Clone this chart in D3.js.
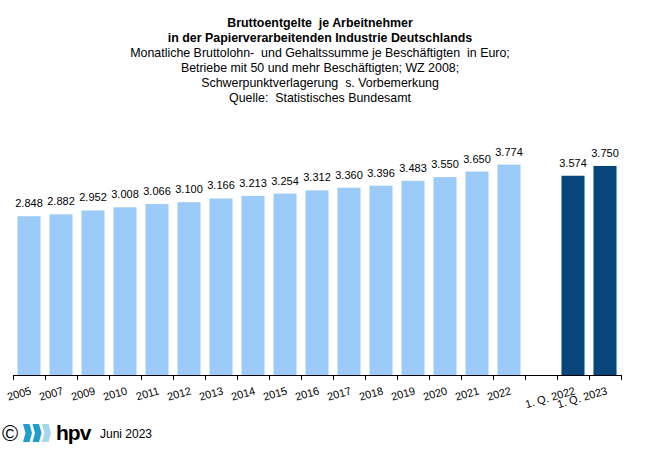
<!DOCTYPE html>
<html>
<head>
<meta charset="utf-8">
<script src="https://cdn.jsdelivr.net/npm/d3@7"></script>
<style>
  body { margin: 0; background: #fff; }
  svg { font-family: "Liberation Sans", Arial, sans-serif; }
</style>
</head>
<body>
<svg id="chart"></svg>
<script>
let width = 648;
let height = 461;

// data ("" = empty gap slot)
let categories = ["2005", "2007", "2009", "2010", "2011", "2012", "2013", "2014", "2015",
    "2016", "2017", "2018", "2019", "2020", "2021", "2022", "", "1. Q. 2022", "1. Q. 2023"];
let values = [2848, 2882, 2952, 3008, 3066, 3100, 3166, 3213, 3254,
    3312, 3360, 3396, 3483, 3550, 3650, 3774, null, 3574, 3750];
let quarterly = [false, false, false, false, false, false, false, false, false,
    false, false, false, false, false, false, false, false, true, true];

let titleLines = [
    "Bruttoentgelte  je Arbeitnehmer",
    "in der Papierverarbeitenden Industrie Deutschlands",
    "Monatliche Bruttolohn-  und Gehaltssumme je Beschäftigten  in Euro;",
    "Betriebe mit 50 und mehr Beschäftigten; WZ 2008;",
    "Schwerpunktverlagerung  s. Vorbemerkung",
    "Quelle:  Statistisches Bundesamt"
];

let svg = d3.select("#chart")
    .attr("width", width)
    .attr("height", height);

let de = d3.formatLocale({decimal: ",", thousands: ".", grouping: [3], currency: ["", " €"]});
let fmt = de.format(",d");

// keys so the empty slot is unique
let keys = categories.map((c, i) => i);

let x = d3.scaleBand()
    .domain(keys)
    .range([13, 621])
    .paddingInner(0.28)
    .paddingOuter(0.14);

let y = d3.scaleLinear()
    .domain([0, 4000])
    .range([375, 152]);

// title
svg.append("g")
    .selectAll("text")
    .data(titleLines)
    .enter().append("text")
    .attr("x", 320)
    .attr("y", (d, i) => 27 + i * 15)
    .attr("text-anchor", "middle")
    .attr("font-size", "12.4px")
    .attr("font-weight", (d, i) => i < 2 ? "bold" : "normal")
    .attr("fill", "#000")
    .style("white-space", "pre")
    .text(d => d);

let data = keys.map(i => ({key: i, label: categories[i], value: values[i], q: quarterly[i]}))
    .filter(d => d.value !== null);

// bars
svg.append("g")
    .selectAll("rect")
    .data(data)
    .enter().append("rect")
    .attr("x", d => x(d.key))
    .attr("y", d => y(d.value))
    .attr("width", x.bandwidth())
    .attr("height", d => y(0) - y(d.value))
    .attr("fill", d => d.q ? "#07457a" : "#9dcbf8");

// value labels
svg.append("g")
    .selectAll("text")
    .data(data)
    .enter().append("text")
    .attr("x", d => x(d.key) + x.bandwidth() / 2)
    .attr("y", d => y(d.value) - 9)
    .attr("text-anchor", "middle")
    .attr("font-size", "11px")
    .attr("fill", "#000")
    .text(d => fmt(d.value));

// axis line and boundary ticks (Excel style)
let axisG = svg.append("g");
axisG.append("line")
    .attr("x1", 13).attr("x2", 621)
    .attr("y1", y(0) + 0.5).attr("y2", y(0) + 0.5)
    .attr("stroke", "#000");
let step = x.step();
axisG.selectAll("line.tick")
    .data(d3.range(categories.length + 1))
    .enter().append("line")
    .attr("class", "tick")
    .attr("x1", i => 13 + i * step + 0.5)
    .attr("x2", i => 13 + i * step + 0.5)
    .attr("y1", y(0))
    .attr("y2", y(0) + 5)
    .attr("stroke", "#000");

// rotated category labels
axisG.selectAll("text")
    .data(keys.filter(i => categories[i] !== ""))
    .enter().append("text")
    .attr("transform", i => "translate(" + (x(i) + x.bandwidth() / 2 + 3) + "," + (y(0) + 19) + ") rotate(-16)")
    .attr("text-anchor", "end")
    .attr("font-size", "11px")
    .attr("fill", "#000")
    .text(i => categories[i]);

// footer: copyright + logo + date
let foot = svg.append("g");
foot.append("text")
    .attr("x", 2).attr("y", 441)
    .attr("font-size", "22px")
    .attr("fill", "#000")
    .text("©");

let stripeColors = ["#1f9dcf", "#1f9dcf", "#a3d7ec"];
foot.selectAll("path.stripe")
    .data(stripeColors)
    .enter().append("path")
    .attr("class", "stripe")
    .attr("d", (c, i) => {
        let x0 = 23 + i * 9.5;
        return "M" + x0 + ",424 L" + (x0 + 6.5) + ",424 L" + (x0 + 9) + ",433 L" + (x0 + 6.5) + ",442 L" +
            x0 + ",442 L" + (x0 + 2.5) + ",433 Z";
    })
    .attr("fill", c => c);

foot.append("text")
    .attr("x", 56).attr("y", 440)
    .attr("font-size", "21px")
    .attr("font-weight", "bold")
    .attr("letter-spacing", "-1px")
    .attr("fill", "#000")
    .text("hpv");

foot.append("text")
    .attr("x", 100).attr("y", 438)
    .attr("font-size", "12px")
    .attr("fill", "#000")
    .text("Juni 2023");
</script>
</body>
</html>
